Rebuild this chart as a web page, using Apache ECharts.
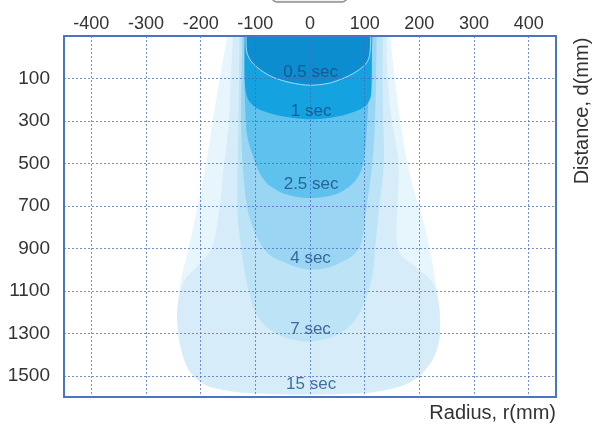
<!DOCTYPE html>
<html><head><meta charset="utf-8">
<script src="https://cdn.jsdelivr.net/npm/echarts@6/dist/echarts.min.js"></script>
<style>html,body{margin:0;padding:0;background:#fff}#c{width:593px;height:425px}</style>
</head><body><div id="c"></div>
<script>
// ---- data (radius r in mm, distance d in mm) ----
const xTicks = [-400, -300, -200, -100, 0, 100, 200, 300, 400];
const yTicks = [100, 300, 500, 700, 900, 1100, 1300, 1500];

// outlines of the nested zones, outermost first: [r, d]
const outerCone = [[-152,-220],[-152,-100],[-165,100],[-178,300],[-190,500],[-205,700],[-222,900],[-236,1050],[-243,1200],[-240,1320],[-232,1410],[-220,1480],[-200,1530],[-175,1558],[-130,1578],[-60,1587],[0,1588],[60,1586],[114,1578],[163,1552],[190,1520],[206,1487],[225,1420],[236,1340],[238,1250],[235,1150],[229,1050],[219,902],[208,780],[196,680],[178,500],[165,300],[155,100],[147,-100],[147,-220]];
const zone15 = [[-141,-220],[-141,-100],[-145,100],[-148,300],[-157,500],[-165,700],[-180,900],[-208,990],[-232,1060],[-243,1200],[-240,1320],[-232,1410],[-220,1480],[-200,1530],[-175,1558],[-130,1578],[-60,1587],[0,1588],[60,1586],[114,1578],[163,1552],[190,1520],[206,1487],[225,1420],[236,1340],[238,1250],[235,1150],[224,1060],[195,990],[166,930],[158,850],[160,700],[162,500],[150,300],[142,100],[140,-100],[140,-220]];
const zone7 = [[-129,-220],[-129,-100],[-131,300],[-133,600],[-132,760],[-127,880],[-118,1033],[-102,1190],[-80,1268],[-50,1316],[-15,1337],[5,1339],[41,1318],[72,1268],[94,1190],[114,1033],[120,880],[126,720],[135,500],[134,300],[133,100],[133,-100],[133,-220]];
const zone4 = [[-124,-220],[-124,-100],[-126,300],[-122,550],[-114,719],[-100,830],[-88,890],[-72,935],[-50,962],[-28,985],[0,1000],[30,992],[52,972],[75,940],[90,900],[96,850],[103,719],[114,500],[119,300],[122,-100],[122,-220]];
const zone25 = [[-121,-220],[-121,-100],[-119,200],[-115,371],[-105,460],[-95,530],[-84,578],[-72,608],[-50,640],[-25,657],[0,663],[25,658],[50,643],[72,609],[85,575],[94,531],[100,460],[103,371],[107,200],[115,-100],[115,-220]];
const zone1 = [[-119,-220],[-119,-100],[-119,130],[-113,200],[-100,235],[-83,255],[-60,273],[-30,286],[0,292],[30,287],[60,274],[88,250],[104,222],[111,186],[113,100],[113,-100],[113,-220]];
const zone05 = [[-117,-220],[-117,-100],[-116,-30],[-110,10],[-100,40],[-85,70],[-65,97],[-35,120],[0,132],[35,122],[62,98],[82,72],[98,42],[107,10],[110,-30],[111,-100],[111,-220]];

const zoneOutlines = [outerCone, zone15, zone7, zone4, zone25, zone1, zone05];

const labelNames = ['15 sec', '7 sec', '4 sec', '2.5 sec', '1 sec', '0.5 sec'];
const labelR = [2, 1, 1, 2, 2, 1];
const labelD = [1538, 1282, 945, 597, 255, 72];

// ---- styles ----
const zoneColors = ['#e7f5fd', '#d6edf9', '#bde3f7', '#9ad6f3', '#5fc1ee', '#15a2e1', '#0b8dd0'];
const FONT = "'Liberation Sans', Arial, Helvetica, sans-serif";
const BORDER = '#4b74c2';
const GRIDC = 'rgba(75,105,190,0.75)';
const D_SHIFT = 100; // axis runs from d=-100 to 1600; shifted so ticks start on a multiple of the interval

const chart = echarts.init(document.getElementById('c'), null, {renderer: 'canvas'});

const axisLineStyle = {show: true, onZero: false, lineStyle: {color: BORDER, width: 2}};

chart.setOption({
  animation: false,
  backgroundColor: '#fff',
  grid: {left: 64, top: 36, width: 492, height: 361, containLabel: false},
  xAxis: [{
    type: 'value', position: 'top', min: -450, max: 450, splitNumber: 9, z: 10,
    axisLine: axisLineStyle, axisTick: {show: false},
    axisLabel: {fontSize: 18, color: '#333', margin: 3, fontFamily: FONT, showMinLabel: false, showMaxLabel: false,
      formatter: v => xTicks.includes(Math.round(v)) ? String(Math.round(v)) : ''},
    splitLine: {show: true, lineStyle: {color: GRIDC, width: 1, type: [2, 2]}}
  }, {
    type: 'value', position: 'bottom', min: -450, max: 450, z: 10,
    axisLine: axisLineStyle, axisTick: {show: false}, axisLabel: {show: false}, splitLine: {show: false}
  }],
  yAxis: [{
    type: 'value', inverse: true, position: 'left', min: 0, max: 1700, interval: 200, z: 10,
    axisLine: axisLineStyle, axisTick: {show: false},
    axisLabel: {fontSize: 19, color: '#333', margin: 14, fontFamily: FONT, showMinLabel: false, showMaxLabel: false,
      formatter: v => yTicks.includes(v - D_SHIFT) ? String(v - D_SHIFT) : ''},
    splitLine: {show: true, lineStyle: {color: GRIDC, width: 1, type: [2, 2]}}
  }, {
    type: 'value', inverse: true, position: 'right', min: 0, max: 1700, z: 10,
    axisLine: axisLineStyle, axisTick: {show: false}, axisLabel: {show: false}, splitLine: {show: false}
  }],
  series: [{
    type: 'custom',
    xAxisIndex: 0, yAxisIndex: 0,
    clip: true,
    silent: true,
    z: 2,
    data: zoneOutlines.map(() => [0, D_SHIFT]),
    renderItem: function (params, api) {
      const i = params.dataIndex;
      const pts = zoneOutlines[i].map(p => api.coord([p[0], p[1] + D_SHIFT]));
      return {
        type: 'polygon',
        z2: i,
        shape: {points: pts, smooth: 0.3},
        style: {
          fill: zoneColors[i],
          stroke: i === zoneOutlines.length - 1 ? 'rgba(185,228,250,0.9)' : null,
          lineWidth: 1
        }
      };
    }
  }, {
    type: 'scatter',
    xAxisIndex: 0, yAxisIndex: 0,
    z: 20, silent: true,
    symbolSize: 0,
    data: labelNames.map((n, i) => [labelR[i], labelD[i] + D_SHIFT, n]),
    label: {show: true, position: 'inside', formatter: p => p.data[2],
      color: '#1a4c82', fontSize: 17, fontFamily: FONT}
  }],
  graphic: [
    {type: 'rect', z: 30, shape: {x: 272, y: -16, width: 75, height: 18, r: 5},
      style: {fill: '#f3f3f3', stroke: '#8c8c8c', lineWidth: 1.5}},
    {type: 'text', z: 30, x: 556, y: 413,
      style: {text: 'Radius, r(mm)', fontSize: 20, fill: '#333', font: "20px " + FONT, align: 'right', verticalAlign: 'middle'}},
    {type: 'text', z: 30, x: 582, y: 111, rotation: Math.PI / 2,
      style: {text: 'Distance, d(mm)', fontSize: 20, fill: '#333', font: "20px " + FONT, align: 'center', verticalAlign: 'middle'}}
  ]
});
</script></body></html>
